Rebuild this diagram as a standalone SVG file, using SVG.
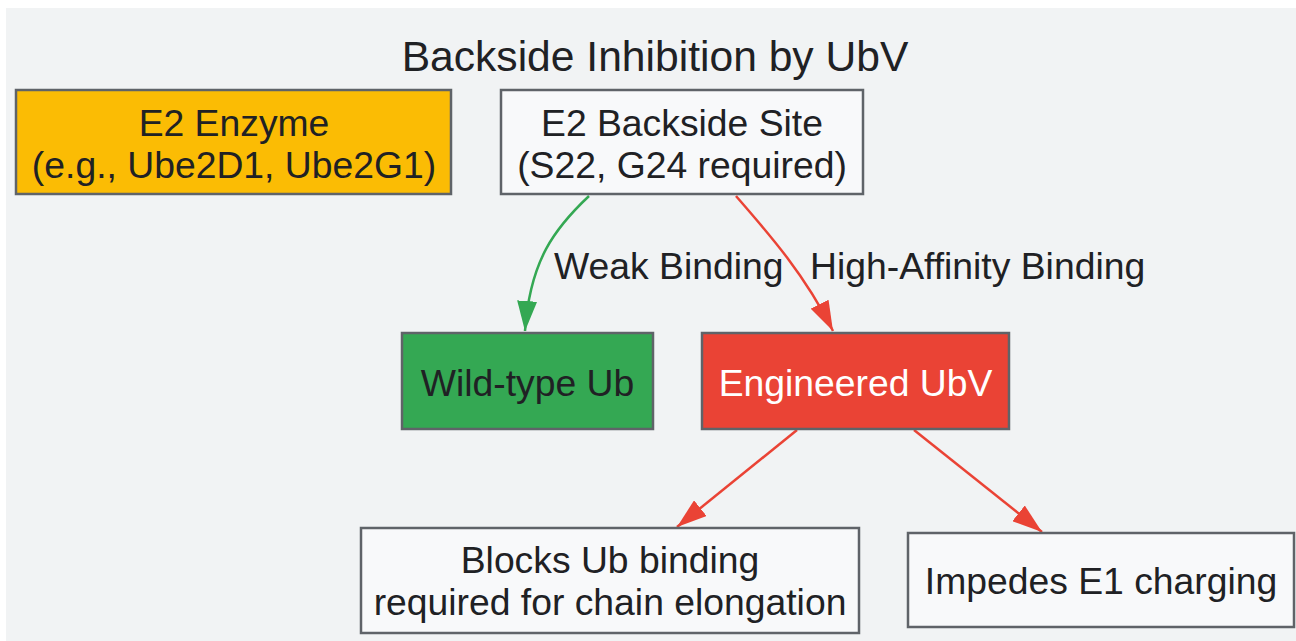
<svg xmlns="http://www.w3.org/2000/svg" width="1296" height="641" viewBox="0 0 1296 641">
<style>
text{font-family:"Liberation Sans",Arial,sans-serif;font-size:37.3px;fill:#202124;text-anchor:middle}
.title{font-size:42.6px}
.node rect{stroke:#5f6368;stroke-width:2.5}
.lbl{text-anchor:start}
.edge{fill:none;stroke-width:2.5}
</style>
<defs>
<marker id="ag" markerUnits="userSpaceOnUse" markerWidth="30" markerHeight="20" refX="30" refY="10" orient="auto"><path d="M0,0L30,10L0,20Z" fill="#34a853"/></marker>
<marker id="ar" markerUnits="userSpaceOnUse" markerWidth="30" markerHeight="20" refX="30" refY="10" orient="auto"><path d="M0,0L30,10L0,20Z" fill="#ea4335"/></marker>
</defs>
<rect x="6" y="8" width="1290" height="633" fill="#f1f3f4"/>
<text class="title" x="655" y="71">Backside Inhibition by UbV</text>
<g id="connectors">
<path class="edge" d="M589,196C555,228 530,260 525,331" stroke="#34a853" marker-end="url(#ag)"/>
<path class="edge" d="M736,196C770,235 805,275 833,331" stroke="#ea4335" marker-end="url(#ar)"/>
<path class="edge" d="M797,430L677,527" stroke="#ea4335" marker-end="url(#ar)"/>
<path class="edge" d="M914,430L1042,532" stroke="#ea4335" marker-end="url(#ar)"/>
<text class="lbl" x="554" y="279">Weak Binding</text>
<text class="lbl" x="810" y="279">High-Affinity Binding</text>
</g>
<g id="e2enzyme" class="node"><rect x="16" y="90" width="435" height="104" fill="#fbbc04"/><text x="234" y="136">E2 Enzyme</text><text x="234" y="178">(e.g., Ube2D1, Ube2G1)</text></g>
<g id="backside" class="node"><rect x="501" y="90" width="362" height="104" fill="#f8f9fa"/><text x="682" y="136">E2 Backside Site</text><text x="682" y="178">(S22, G24 required)</text></g>
<g id="wildtype" class="node"><rect x="402" y="333" width="251" height="96" fill="#34a853"/><text x="527.5" y="396">Wild-type Ub</text></g>
<g id="ubv" class="node"><rect x="702" y="333" width="307" height="96" fill="#ea4335"/><text x="855.5" y="396" style="fill:#ffffff">Engineered UbV</text></g>
<g id="blocks" class="node"><rect x="361" y="528" width="498" height="105" fill="#f8f9fa"/><text x="610" y="573">Blocks Ub binding</text><text x="610" y="615">required for chain elongation</text></g>
<g id="impedes" class="node"><rect x="908" y="533" width="386" height="94" fill="#f8f9fa"/><text x="1101" y="594">Impedes E1 charging</text></g>
</svg>
